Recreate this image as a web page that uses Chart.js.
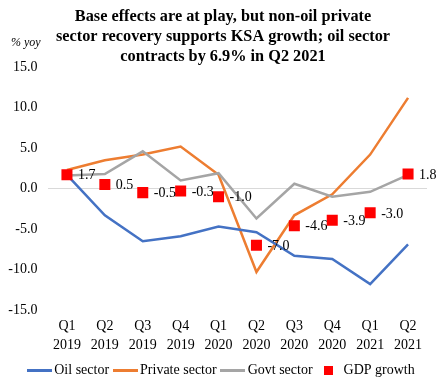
<!DOCTYPE html>
<html>
<head>
<meta charset="utf-8">
<script src="https://cdn.jsdelivr.net/npm/chart.js@4.4.1/dist/chart.umd.min.js"></script>
<style>
  html, body { margin: 0; padding: 0; background: #fff; }
  #wrap { width: 438px; height: 378px; position: relative; }
</style>
</head>
<body>
<div id="wrap"><canvas id="growthChart"></canvas></div>
<script>
// Quarterly growth, % yoy
const quarters = [
  ['Q1', '2019'], ['Q2', '2019'], ['Q3', '2019'], ['Q4', '2019'],
  ['Q1', '2020'], ['Q2', '2020'], ['Q3', '2020'], ['Q4', '2020'],
  ['Q1', '2021'], ['Q2', '2021']
];
const oilSector     = [1.7, -3.3, -6.5, -5.9, -4.7, -5.4, -8.3, -8.7, -11.8, -6.9];
const privateSector = [2.3, 3.5, 4.2, 5.2, 1.7, -10.3, -3.3, -0.7, 4.2, 11.2];
const govtSector    = [1.6, 1.8, 4.6, 1.0, 1.9, -3.7, 0.6, -1.0, -0.4, 1.7];
const gdpGrowth     = [1.7, 0.5, -0.5, -0.3, -1.0, -7.0, -4.6, -3.9, -3.0, 1.8];
const yTicks = [15, 10, 5, 0, -5, -10, -15];

const SERIF = "'Liberation Serif', 'Times New Roman', serif";
Chart.defaults.font.family = SERIF;
Chart.defaults.color = '#000';

// legend icons: short thick line for the sectors, red square for GDP
function lineIcon(color) {
  const c = document.createElement('canvas');
  c.width = 25; c.height = 3;
  const g = c.getContext('2d');
  g.fillStyle = color;
  g.fillRect(0, 0, 25, 3);
  return c;
}
function squareIcon(size, color) {
  const c = document.createElement('canvas');
  c.width = size; c.height = size;
  const g = c.getContext('2d');
  g.fillStyle = color;
  g.fillRect(0, 0, size, size);
  return c;
}

// "% yoy" unit note above the y axis
const unitNote = {
  id: 'unitNote',
  afterDraw(chart) {
    const ctx = chart.ctx;
    ctx.save();
    ctx.font = 'italic 12px ' + SERIF;
    ctx.fillStyle = '#000';
    ctx.textBaseline = 'middle';
    ctx.fillText('% yoy', 11, 43);
    ctx.restore();
  }
};

// value labels to the right of the GDP markers
const gdpLabels = {
  id: 'gdpLabels',
  afterDatasetsDraw(chart) {
    const ctx = chart.ctx;
    const meta = chart.getDatasetMeta(3);
    ctx.save();
    ctx.font = '14px ' + SERIF;
    ctx.fillStyle = '#000';
    ctx.textBaseline = 'middle';
    meta.data.forEach((pt, i) => {
      ctx.fillText(gdpGrowth[i].toFixed(1), pt.x + 11, pt.y + 1);
    });
    ctx.restore();
  }
};

new Chart(document.getElementById('growthChart'), {
  type: 'line',
  data: {
    labels: quarters,
    datasets: [
      { label: 'Oil sector', data: oilSector, yAxisID: 'y', borderColor: '#4472c4', backgroundColor: '#4472c4',
        borderWidth: 2.5, pointRadius: 0, order: 2 },
      { label: 'Private sector', data: privateSector, yAxisID: 'y', borderColor: '#ed7d31', backgroundColor: '#ed7d31',
        borderWidth: 2.5, pointRadius: 0, order: 3 },
      { label: 'Govt sector', data: govtSector, yAxisID: 'y', borderColor: '#a5a5a5', backgroundColor: '#a5a5a5',
        borderWidth: 2.5, pointRadius: 0, order: 1 },
      { label: 'GDP growth', data: gdpGrowth, yAxisID: 'y', showLine: false, pointStyle: 'rect',
        pointRadius: 7.8, pointHoverRadius: 7.8, pointBackgroundColor: '#ff0000',
        pointBorderWidth: 0, borderColor: '#ff0000', backgroundColor: '#ff0000', order: 0 }
    ]
  },
  options: {
    responsive: true,
    maintainAspectRatio: false,
    animation: false,
    layout: { padding: { left: 8, right: 0, top: 0, bottom: -9 } },
    scales: {
      x: {
        offset: true,
        grid: { display: false, drawTicks: false },
        border: { display: false },
        ticks: { font: { size: 14, lineHeight: 1.36 }, color: '#000', maxRotation: 0, autoSkip: false, padding: 7 },
        afterFit(scale) { scale.height = 45; }
      },
      y: {
        min: -15, max: 15,
        afterBuildTicks(axis) { axis.ticks = yTicks.map(v => ({ value: v })); },
        afterFit(scale) { scale.width = 40; },
        border: { display: false },
        grid: {
          drawTicks: false,
          color: ctx => (ctx.tick && ctx.tick.value === 0) ? '#d9d9d9' : 'rgba(0,0,0,0)',
          lineWidth: 1
        },
        ticks: { font: { size: 14 }, color: '#000', padding: 10.5, callback: v => v.toFixed(1) }
      },
      // empty strip on the right so the last label has room
      yRight: {
        position: 'right',
        grid: { display: false, drawTicks: false },
        border: { display: false },
        ticks: { display: false },
        afterFit(scale) { scale.width = 11; }
      }
    },
    plugins: {
      title: {
        display: true,
        text: ['Base effects are at play, but non-oil private',
               'sector recovery supports KSA growth; oil sector',
               'contracts by 6.9% in Q2 2021'],
        font: { size: 16.3, weight: 'bold', lineHeight: 1.23 },
        color: '#000',
        padding: { top: 7, bottom: 0 }
      },
      legend: {
        position: 'bottom',
        labels: {
          usePointStyle: true,
          pointStyleWidth: 16,
          font: { size: 14 },
          color: '#000',
          padding: 8,
          generateLabels(chart) {
            return chart.data.datasets.map((ds, i) => ({
              text: ds.label,
              datasetIndex: i,
              pointStyle: i === 3 ? squareIcon(9, '#ff0000') : lineIcon(ds.borderColor),
              strokeStyle: ds.borderColor,
              fillStyle: ds.backgroundColor,
              lineWidth: 0,
              hidden: false
            }));
          }
        }
      },
      tooltip: { enabled: false }
    }
  },
  plugins: [unitNote, gdpLabels]
});
</script>
</body>
</html>
